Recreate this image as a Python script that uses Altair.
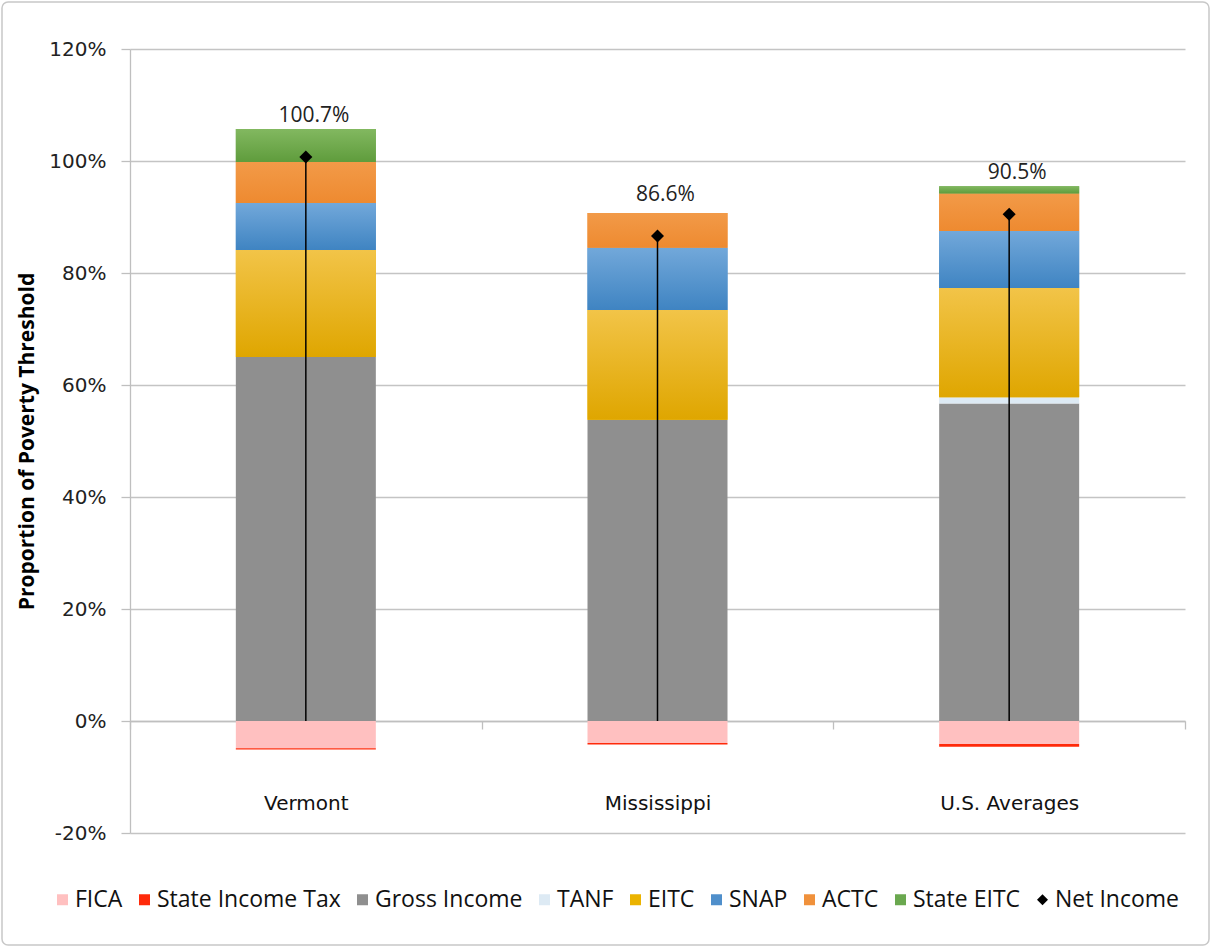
import altair as alt
import pandas as pd

# ---------------- data ----------------
regions = ["Vermont", "Mississippi", "U.S. Averages"]
series_names = ["FICA", "State Income Tax", "Gross Income", "TANF", "EITC",
                "SNAP", "ACTC", "State EITC"]
fica = [-4.85, -3.95, -4.1]
state_income_tax = [-0.25, -0.25, -0.5]
gross_income = [65.0, 53.8, 56.7]
tanf = [0.0, 0.0, 1.1]
eitc = [19.1, 19.6, 19.5]
snap = [8.4, 11.1, 10.2]
actc = [7.3, 6.2, 6.7]
state_eitc = [5.9, 0.0, 1.3]
net_income = [100.7, 86.6, 90.5]

legend_items = series_names + ["Net Income"]
colors = ["#FFC0C0", "#FF2A0A", "#8F8F8F", "#DDEAF4", "#EBB300",
          "#4F8FCB", "#F0913B", "#6AA84F", "#000000"]
shapes = ["square"] * 8 + ["diamond"]
y_ticks = [-20, 0, 20, 40, 60, 80, 100, 120]

values_by_series = [fica, state_income_tax, gross_income, tanf, eitc,
                    snap, actc, state_eitc]
rows = []
for order, (name, vals) in enumerate(zip(series_names, values_by_series)):
    for r, v in zip(regions, vals):
        if v != 0:
            rows.append({"region": r, "series": name, "value": v, "order": order})
df = pd.DataFrame(rows)
df_net = pd.DataFrame({"region": regions, "net": net_income,
                       "series": ["Net Income"] * len(regions)})

# ---------------- encodings ----------------
SANS = "Open Sans"
WIDE = "DejaVu Sans"

color_scale = alt.Scale(domain=legend_items, range=colors)
shape_scale = alt.Scale(domain=legend_items, range=shapes)
legend = alt.Legend(
    title=None, orient="none", legendX=-79, legendY=839, direction="horizontal",
    labelFont=SANS, labelFontSize=23, labelColor="#111111", symbolSize=121,
    symbolStrokeWidth=0, columnPadding=10, labelOffset=1, labelLimit=400,
)

x_enc = alt.X(
    "region:N", sort=regions,
    scale=alt.Scale(domain=regions, paddingInner=0, paddingOuter=0),
    axis=alt.Axis(title=None, offset=-112, labelPadding=64, tickBand="extent",
                  tickSize=8, tickColor="#BFBFBF", tickWidth=1.3,
                  domainColor="#BFBFBF", domainWidth=1.3,
                  labelFont=WIDE, labelFontSize=20, labelColor="#111111",
                  labelAngle=0),
)
y_scale = alt.Scale(domain=[-20, 120], nice=False, zero=False)
y_axis = alt.Axis(values=y_ticks, labelExpr="datum.value + '%'",
                  title="Proportion of Poverty Threshold", titleFont=SANS,
                  titleFontSize=21, titleFontWeight="bold", titleColor="#000000",
                  titlePadding=11, labelFont=WIDE, labelFontSize=20,
                  labelColor="#222222", labelPadding=15, tickSize=9,
                  tickColor="#BFBFBF", tickWidth=1.3, domainColor="#BFBFBF",
                  domainWidth=1.3, grid=True, gridColor="#C4C4C4", gridWidth=1.4)

base = alt.Chart(df).transform_stack(
    stack="value", groupby=["region"], as_=["y0", "y1"],
    sort=[alt.SortField("order", order="ascending")], offset="zero",
)

bars = base.mark_bar(size=140).encode(
    x=x_enc,
    y=alt.Y("y0:Q", scale=y_scale, axis=y_axis),
    y2="y1:Q",
    color=alt.Color("series:N", scale=color_scale, legend=legend),
)

def grad(top, bottom):
    return alt.Gradient(
        gradient="linear", x1=0, x2=0, y1=0, y2=1,
        stops=[alt.GradientStop(color=top, offset=0),
               alt.GradientStop(color=bottom, offset=1)],
    )

gradients = {
    "EITC": grad("#F2C448", "#DFA600"),
    "SNAP": grad("#72A8DA", "#3F84C2"),
    "ACTC": grad("#F29A48", "#EE8A30"),
    "State EITC": grad("#82B860", "#5F9C3C"),
}
grad_layers = [
    base.transform_filter(alt.datum.series == name)
    .mark_bar(size=140, fill=g)
    .encode(x=alt.X("region:N", sort=regions), y="y0:Q", y2="y1:Q")
    for name, g in gradients.items()
]

net_base = alt.Chart(df_net)
drop = net_base.mark_rule(color="#000000", strokeWidth=1.5).encode(
    x=alt.X("region:N", sort=regions), y=alt.Y("net:Q"), y2=alt.datum(0)
)
points = net_base.mark_point(filled=True, size=170, opacity=1).encode(
    x=alt.X("region:N", sort=regions),
    y=alt.Y("net:Q"),
    color=alt.Color("series:N", scale=color_scale, legend=legend),
    shape=alt.Shape("series:N", scale=shape_scale, legend=legend),
)
labels = net_base.transform_calculate(
    label="format(datum.net, '.1f') + '%'"
).mark_text(dy=-41, dx=8, font=SANS, fontSize=21, color="#222222").encode(
    x=alt.X("region:N", sort=regions), y=alt.Y("net:Q"), text="label:N"
)

frame = alt.Chart(pd.DataFrame({"f": [0]})).mark_rect(
    fill="transparent", stroke="#C8C8C8", strokeWidth=1.5, cornerRadius=6
).encode(x=alt.value(-128), x2=alt.value(1079), y=alt.value(-47), y2=alt.value(896))

chart = alt.layer(bars, *grad_layers, drop, points, labels, frame).properties(
    width=1055, height=784,
    autosize=alt.AutoSizeParams(type="none"),
    padding={"left": 130, "top": 49, "right": 26, "bottom": 114},
    background="white",
).configure_view(stroke=None)

chart.save("out.html", embed_options={"renderer": "svg", "actions": False})
